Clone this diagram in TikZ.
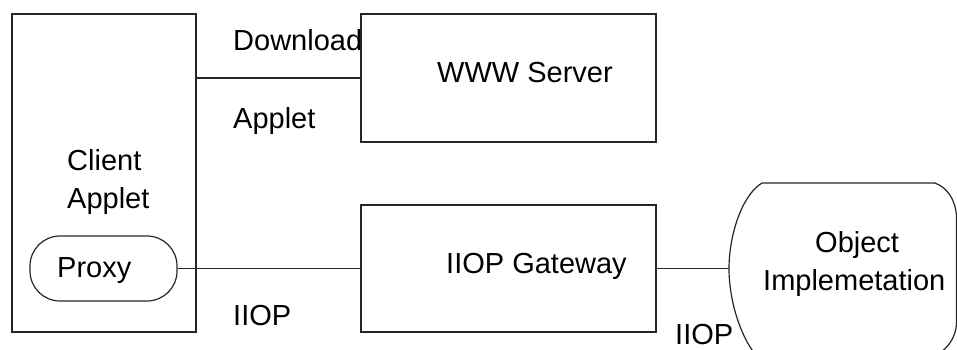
\documentclass[tikz,border=0pt]{standalone}
\usepackage{fontspec}
\setmainfont{Liberation Sans}
\begin{document}
\begin{tikzpicture}[x=1pt,y=-1pt,
  box/.style={draw=black!85, line width=1.6pt, minimum width=0pt, inner sep=0pt},
  pill/.style={draw=black!85, line width=1.2pt, rounded corners=30pt, inner sep=0pt},
  wire/.style={draw=black!85, line width=1.6pt},
  lbl/.style={inner sep=0pt, anchor=base west, font=\fontsize{29}{38}\selectfont, text=black}]
\useasboundingbox[fill=white] (0,0) rectangle (957,349);

% boxes
\node[box, minimum width=184pt, minimum height=318pt] (client) at (104,173) {};
\node[box, minimum width=295pt, minimum height=128pt] (www) at (508.5,78) {};
\node[box, minimum width=295pt, minimum height=127pt] (gateway) at (508.5,268.5) {};
\node[pill, minimum width=147pt, minimum height=65pt] (proxy) at (103.5,268.5) {};

% object implementation outline (runs past the page edge)
\coordinate (objw) at (729,268.5);
\begin{scope}
\clip (0,0) rectangle (957,349);
\draw[black!85, line width=1.2pt]
  (935,183) -- (762,183) .. controls (742,195) and (729,235) .. (objw)
  .. controls (729,300) and (740,335) .. (755,354);
\draw[black!85, line width=1.2pt]
  (935,183) .. controls (948,188) and (955,200) .. (956.5,215) -- (956.5,325)
  .. controls (955,338) and (948,348) .. (938,354);
\end{scope}

% connectors
\draw[wire] (client.east |- www.west) -- (www.west);
\draw[wire] (proxy.east) -- (gateway.west);
\draw[wire] (gateway.east) -- (objw);

% texts
\node[lbl] (tclient) at (67,170) {Client};
\node[lbl] (tapplet) at (67,208) {Applet};
\node[lbl] (tproxy) at (57,277) {Proxy};
\node[lbl] (tdown) at (233,50) {Download};
\node[lbl] (tappl2) at (233,128) {Applet};
\node[lbl] (tiiop1) at (233,325) {IIOP};
\node[lbl] (twww) at (437,82) {WWW Server};
\node[lbl] (tgw) at (446,273) {IIOP Gateway};
\node[lbl] (tobj) at (815,252) {Object};
\node[lbl] (timpl) at (763,290) {Implemetation};
\node[lbl] (tiiop2) at (675,344) {IIOP};
\end{tikzpicture}
\end{document}
